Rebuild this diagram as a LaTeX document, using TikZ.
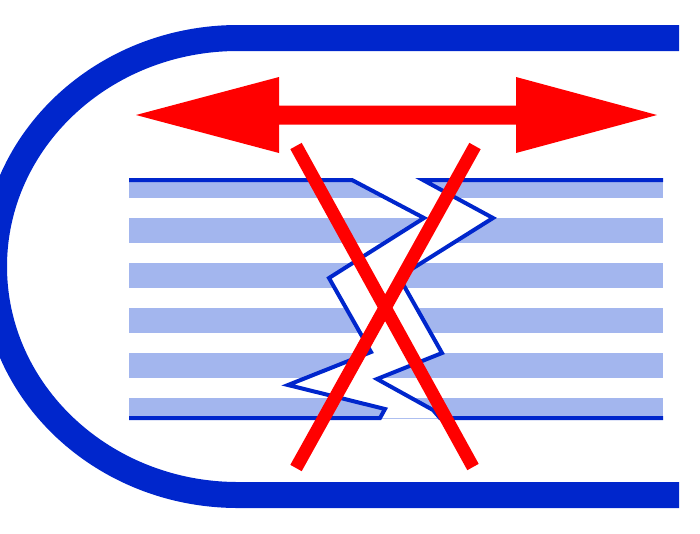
\documentclass[tikz,border=0pt]{standalone}
\usetikzlibrary{positioning, arrows.meta, calc}
\definecolor{tubeblue}{RGB}{0,38,204}
\definecolor{layerblue}{RGB}{163,182,238}

\begin{document}
\begin{tikzpicture}[x=0.2mm, y=-0.2mm,
	tube/.style={draw=tubeblue, line width=5.2mm},
	layer/.style={fill=layerblue},
	edgeline/.style={draw=tubeblue, line width=0.8mm, line join=miter},
	crossbar/.style={draw=red, line width=2.6mm}]
	\useasboundingbox (0,0) rectangle (700,533);
	\clip (0,0) rectangle (700,533);
	
	% outer tube
	\draw[tube] (679,38) -- (238,38) arc[start angle=270, end angle=90, x radius=244, y radius=228.5] -- (679,495);
	
	% layers
	\begin{scope}
		\clip (129,180) rectangle (663,418);
		\foreach \i in {0,...,5}
			\fill[layer] (129,173+45*\i) rectangle (663,198+45*\i);
	\end{scope}
	
	% crack
	\coordinate (l1) at (352,180);
	\coordinate (l2) at (424,218);
	\coordinate (l3) at (329,278);
	\coordinate (l4) at (371,352);
	\coordinate (l5) at (288,385);
	\coordinate (l6) at (385,409);
	\coordinate (l7) at (380,418);
	\coordinate (r1) at (423,180);
	\coordinate (r2) at (493,218);
	\coordinate (r3) at (399,277);
	\coordinate (r4) at (442,353);
	\coordinate (r5) at (377,379);
	\coordinate (r6) at (433,410);
	\coordinate (r7) at (440,418);
	\fill[white] (l1) -- (l2) -- (l3) -- (l4) -- (l5) -- (l6) -- (l7)
		-- (r7) -- (r6) -- (r5) -- (r4) -- (r3) -- (r2) -- (r1) -- cycle;
	\draw[edgeline] (129,180) -- (l1) -- (l2) -- (l3) -- (l4) -- (l5) -- (l6) -- (l7) -- (129,418);
	\draw[edgeline] (663,180) -- (r1) -- (r2) -- (r3) -- (r4) -- (r5) -- (r6) -- (r7) -- (663,418);
	
	% double arrow
	\fill[red] (136,115) -- (279,77) -- (279,105.5) -- (516,105.5) -- (516,77) -- (657,115)
		-- (516,153) -- (516,124.5) -- (279,124.5) -- (279,153) -- cycle;
	
	% cross
	\coordinate (xtl) at (296,146);
	\coordinate (xtr) at (475,146);
	\coordinate (xbl) at (296,468);
	\coordinate (xbr) at (473,467);
	\draw[crossbar] (xtl) -- (xbr);
	\draw[crossbar] (xtr) -- (xbl);
\end{tikzpicture}
\end{document}
